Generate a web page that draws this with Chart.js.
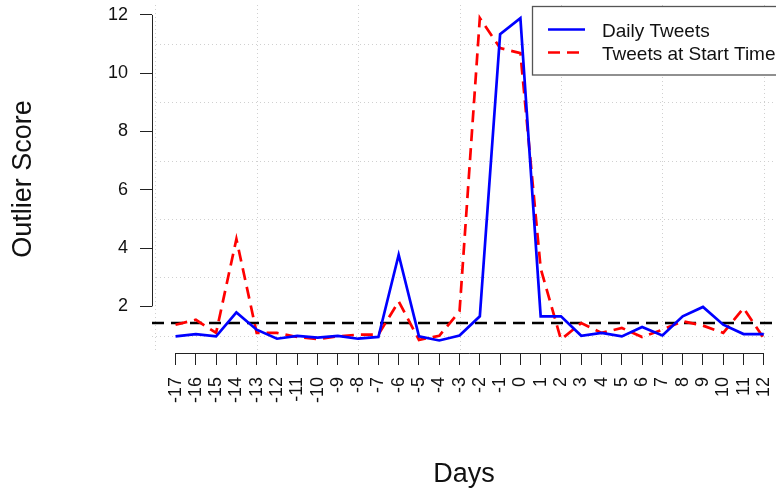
<!DOCTYPE html>
<html>
<head>
<meta charset="utf-8">
<script src="https://cdn.jsdelivr.net/npm/chart.js@4/dist/chart.umd.min.js"></script>
<style>
  html, body { margin: 0; padding: 0; background: #fff; }
  canvas { display: block; }
</style>
</head>
<body>
<canvas id="chart" width="776" height="497"></canvas>
<script>
// Data
const days = [-17, -16, -15, -14, -13, -12, -11, -10, -9, -8, -7, -6, -5, -4, -3,
  -2, -1, 0, 1, 2, 3, 4, 5, 6, 7, 8, 9, 10, 11, 12];
const dailyTweets = [0.97, 1.05, 0.97, 1.79, 1.2, 0.89, 0.99, 0.93, 0.99, 0.89, 0.95, 3.77, 0.97, 0.83, 1.0,
  1.66, 11.34, 11.89, 1.66, 1.66, 0.99, 1.09, 0.97, 1.29, 1.0, 1.66, 1.98, 1.37, 1.05, 1.05];
const startTweets = [1.37, 1.54, 1.09, 4.31, 1.09, 1.09, 0.95, 0.88, 0.97, 1.03, 1.03, 2.17, 0.85, 0.99, 1.83,
  11.89, 10.86, 10.69, 3.3, 0.86, 1.43, 1.09, 1.26, 0.95, 1.2, 1.49, 1.34, 1.09, 1.94, 0.9];
const threshold = 1.43;
const yTicks = [2, 4, 6, 8, 10, 12];
const xGrid = [-18, -13, -8, -3, 2, 7, 12];
const yGrid = [1, 3, 5, 7, 9, 11];

// Axis ranges (R style 4% padding, right side cut by the picture)
const xMin = -18.16, xMax = 12.6;
const yMin = 0.4, yMax = 12.34;

const FONT = "'Liberation Sans', Arial, Helvetica, sans-serif";
const DASH = [12, 7];

const toPoints = (vals) => days.map((d, i) => ({ x: d, y: vals[i] }));

// dotted background grid + R style axis lines
const rGrid = {
  id: "rGrid",
  beforeDatasetsDraw(chart) {
    const { ctx, chartArea: a, scales: { x, y } } = chart;
    ctx.save();
    ctx.strokeStyle = "#d0d0d0";
    ctx.lineWidth = 1;
    ctx.setLineDash([1, 3]);
    for (const v of xGrid) {
      const px = Math.round(x.getPixelForValue(v)) + 0.5;
      ctx.beginPath(); ctx.moveTo(px, a.top); ctx.lineTo(px, a.bottom); ctx.stroke();
    }
    for (const v of yGrid) {
      const py = Math.round(y.getPixelForValue(v)) + 0.5;
      ctx.beginPath(); ctx.moveTo(a.left, py); ctx.lineTo(a.right, py); ctx.stroke();
    }
    ctx.restore();
  },
  afterDraw(chart) {
    const { ctx, chartArea: a, scales: { x, y } } = chart;
    ctx.save();
    ctx.strokeStyle = "#222";
    ctx.lineWidth = 1;
    ctx.beginPath();
    ctx.moveTo(a.left + 0.5, y.getPixelForValue(yTicks[0]));
    ctx.lineTo(a.left + 0.5, y.getPixelForValue(yTicks[yTicks.length - 1]));
    ctx.moveTo(x.getPixelForValue(days[0]), a.bottom + 0.5);
    ctx.lineTo(x.getPixelForValue(days[days.length - 1]), a.bottom + 0.5);
    ctx.stroke();
    ctx.restore();
  }
};

// boxed legend in the top right corner
const rLegend = {
  id: "rLegend",
  afterDraw(chart) {
    const ctx = chart.ctx;
    const items = chart.data.datasets.filter(ds => ds.label);
    ctx.save();
    ctx.fillStyle = "#fff";
    ctx.fillRect(532, 6, 300, 69);
    ctx.strokeStyle = "#555";
    ctx.lineWidth = 1.3;
    ctx.strokeRect(532.5, 6.5, 300, 68.5);
    ctx.font = "19px " + FONT;
    ctx.textBaseline = "alphabetic";
    items.forEach((ds, i) => {
      const ly = 29.5 + i * 23;
      ctx.strokeStyle = ds.borderColor;
      ctx.lineWidth = ds.borderWidth;
      ctx.setLineDash(ds.borderDash || []);
      ctx.beginPath(); ctx.moveTo(548, ly); ctx.lineTo(585, ly); ctx.stroke();
      ctx.fillStyle = "#111";
      ctx.fillText(ds.label, 602, ly + 7);
    });
    ctx.restore();
  }
};

new Chart(document.getElementById("chart"), {
  type: "line",
  plugins: [rGrid, rLegend],
  data: {
    datasets: [
      {
        label: "Daily Tweets",
        data: toPoints(dailyTweets),
        borderColor: "#0000ff",
        borderWidth: 2.7,
        pointRadius: 0,
        tension: 0
      },
      {
        label: "Tweets at Start Time",
        data: toPoints(startTweets),
        borderColor: "#ff0000",
        borderWidth: 2.7,
        borderDash: DASH,
        pointRadius: 0,
        tension: 0
      },
      {
        data: [{ x: xMin, y: threshold }, { x: xMax, y: threshold }],
        borderColor: "#000",
        borderWidth: 2.7,
        borderDash: DASH,
        pointRadius: 0
      }
    ]
  },
  options: {
    responsive: false,
    devicePixelRatio: 1,
    animation: false,
    layout: { padding: { top: 5, left: 0, right: 0, bottom: 0 } },
    plugins: {
      legend: { display: false },
      tooltip: { enabled: false }
    },
    scales: {
      x: {
        type: "linear",
        min: xMin,
        max: xMax,
        afterBuildTicks: (s) => { s.ticks = days.map(v => ({ value: v })); },
        afterFit: (s) => { s.height = 144; s.paddingLeft = 0; s.paddingRight = 0; },
        border: { display: false },
        grid: { drawOnChartArea: false, color: "#222", tickLength: 12, tickWidth: 1 },
        ticks: {
          autoSkip: false,
          minRotation: 90,
          maxRotation: 90,
          padding: 12,
          color: "#111",
          font: { family: FONT, size: 18 },
          callback: (v) => String(v)
        },
        title: {
          display: true,
          text: "Days",
          color: "#111",
          font: { family: FONT, size: 27 },
          padding: { top: 0, bottom: 6 }
        }
      },
      y: {
        min: yMin,
        max: yMax,
        afterBuildTicks: (s) => { s.ticks = yTicks.map(v => ({ value: v })); },
        afterFit: (s) => { s.width = 152; s.paddingTop = 0; s.paddingBottom = 0; },
        border: { display: false },
        grid: { drawOnChartArea: false, color: "#222", tickLength: 12, tickWidth: 1 },
        ticks: {
          padding: 12,
          color: "#111",
          font: { family: FONT, size: 18 },
          callback: (v) => String(v)
        },
        title: {
          display: true,
          text: "Outlier Score",
          color: "#111",
          font: { family: FONT, size: 27 },
          padding: { top: 7, bottom: 0 }
        }
      }
    }
  }
});
</script>
</body>
</html>
